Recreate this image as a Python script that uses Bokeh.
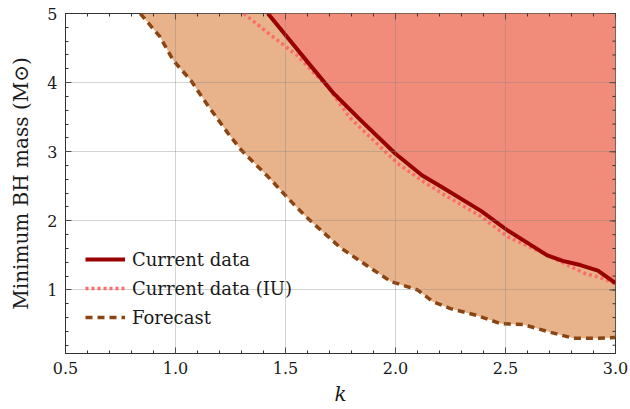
import math
from bokeh.plotting import figure
from bokeh.models import FixedTicker, Range1d
from bokeh.embed import file_html
from bokeh.resources import INLINE

# ---- data ----
k_cur = [1.42, 1.50, 1.60, 1.72, 1.84, 2.00, 2.12, 2.21, 2.39, 2.51, 2.60, 2.69, 2.76, 2.84, 2.92, 3.00]
M_cur = [5.00, 4.69, 4.30, 3.84, 3.46, 2.97, 2.66, 2.49, 2.14, 1.86, 1.68, 1.50, 1.42, 1.36, 1.28, 1.10]

k_iu = [1.31, 1.42, 1.55, 1.70, 1.79, 2.01, 2.13, 2.21, 2.39, 2.51, 2.66, 2.77, 2.86, 2.93, 3.00]
M_iu = [5.00, 4.72, 4.40, 3.91, 3.50, 2.83, 2.56, 2.40, 2.06, 1.77, 1.55, 1.38, 1.24, 1.18, 1.09]

k_fc = [0.84, 0.93, 0.99, 1.07, 1.14, 1.24, 1.30, 1.42, 1.54, 1.61, 1.75, 1.88, 1.98, 2.10,
        2.17, 2.25, 2.37, 2.48, 2.58, 2.70, 2.81, 2.90, 3.00]
M_fc = [5.00, 4.66, 4.32, 4.03, 3.70, 3.26, 3.02, 2.64, 2.23, 2.01, 1.61, 1.33, 1.12, 1.00,
        0.83, 0.73, 0.63, 0.51, 0.50, 0.39, 0.30, 0.30, 0.31]

x_major = [0.5, 1.0, 1.5, 2.0, 2.5, 3.0]
x_minor = [round(0.5 + 0.1 * i, 2) for i in range(26)]
y_major = [1, 2, 3, 4, 5]
y_minor = [round(0.2 * i, 2) for i in range(1, 26)]
x_labels = {0.5: "0.5", 1.0: "1.0", 1.5: "1.5", 2.0: "2.0", 2.5: "2.5", 3.0: "3.0"}

X_MIN, X_MAX = 0.5, 3.0
Y_MIN, Y_MAX = 0.08, 5.0

FONT = "DejaVu Serif"
TXT = "#1a1a1a"
AX = "#333333"

p = figure(width=630, height=409, output_backend="svg", toolbar_location=None,
           x_range=Range1d(X_MIN, X_MAX), y_range=Range1d(Y_MIN, Y_MAX),
           x_axis_label="k", y_axis_label="Minimum BH mass (M\u2299)",
           min_border_left=65, min_border_right=15, min_border_top=13, min_border_bottom=56)
p.outline_line_color = AX
p.background_fill_color = "white"
p.border_fill_color = "white"

# fills
p.varea(x=k_fc, y1=M_fc, y2=Y_MAX, fill_color="#E8B38B", fill_alpha=1.0)
p.varea(x=k_cur, y1=M_cur, y2=Y_MAX, fill_color="#F28C7A", fill_alpha=1.0)

# lines
p.line(k_fc, M_fc, line_color="#8B4513", line_width=3.5, line_dash="7 5", legend_label="Forecast")
p.line(k_iu, M_iu, line_color="#FF6B6B", line_width=3.5, line_dash="3 3", legend_label="Current data (IU)")
p.line(k_cur, M_cur, line_color="#990000", line_width=4, legend_label="Current data")

# mirrored inward ticks on the top and right frame edges (half of each dash is clipped)
p.scatter(x=x_major, y=Y_MAX, marker="dash", angle=math.pi / 2, size=12, line_color=AX, line_width=1)
p.scatter(x=x_minor, y=Y_MAX, marker="dash", angle=math.pi / 2, size=6, line_color=AX, line_width=1)
p.scatter(x=X_MAX, y=y_major, marker="dash", size=12, line_color=AX, line_width=1)
p.scatter(x=X_MAX, y=y_minor, marker="dash", size=6, line_color=AX, line_width=1)

leg = p.legend[0]
leg.items = [leg.items[2], leg.items[1], leg.items[0]]
leg.location = (20, 25)
leg.background_fill_alpha = 0
leg.border_line_color = None
leg.padding = 0
leg.margin = 0
leg.spacing = 7
leg.glyph_width = 40
leg.glyph_height = 22
leg.label_height = 22
leg.label_standoff = 7
leg.label_text_font = FONT
leg.label_text_font_size = "18px"
leg.label_text_color = TXT

# grid drawn over the fills
for g in (p.xgrid[0], p.ygrid[0]):
    g.level = "overlay"
    g.grid_line_color = "#808080"
    g.grid_line_alpha = 0.35
    g.grid_line_width = 1
p.xgrid[0].ticker = FixedTicker(ticks=x_major)
p.ygrid[0].ticker = FixedTicker(ticks=y_major)

def style_axis(ax, major, minor):
    ax.ticker = FixedTicker(ticks=major, minor_ticks=minor)
    ax.major_tick_in = 6
    ax.major_tick_out = 0
    ax.minor_tick_in = 3
    ax.minor_tick_out = 0
    ax.axis_line_color = AX
    ax.major_tick_line_color = AX
    ax.minor_tick_line_color = AX
    ax.major_label_text_font = FONT
    ax.major_label_text_font_size = "16px"
    ax.major_label_text_color = TXT
    ax.axis_label_text_font = FONT
    ax.axis_label_text_color = TXT

xa = p.xaxis[0]
style_axis(xa, x_major, x_minor)
xa.major_label_overrides = x_labels
xa.major_label_standoff = 8
xa.axis_label_standoff = 5
xa.axis_label_text_font_size = "20px"
xa.axis_label_text_font_style = "italic"

ya = p.yaxis[0]
style_axis(ya, y_major, y_minor)
ya.major_label_standoff = 8
ya.axis_label_standoff = 11
ya.axis_label_text_font_size = "20px"
ya.axis_label_text_font_style = "normal"

open("out.html", "w").write(file_html(p, INLINE))
